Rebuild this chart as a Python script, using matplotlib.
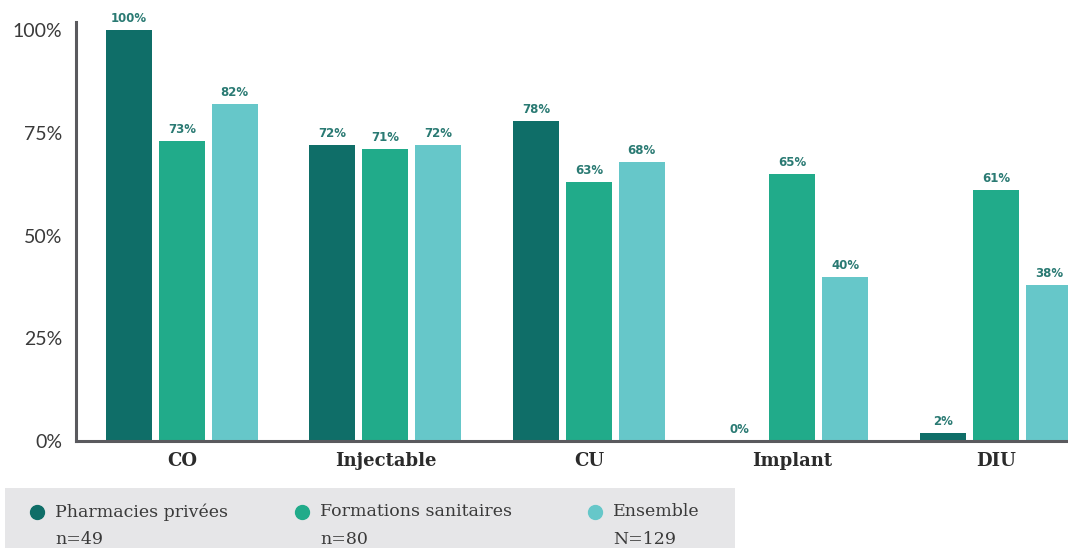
import numpy as np
import matplotlib.pyplot as plt
from matplotlib.patches import Rectangle
from matplotlib.lines import Line2D

categories = ["CO", "Injectable", "CU", "Implant", "DIU"]
pharmacies = [100, 72, 78, 0, 2]
formations = [73, 71, 63, 65, 61]
ensemble = [82, 72, 68, 40, 38]

series_names = ["Pharmacies privées", "Formations sanitaires", "Ensemble"]
series_counts = ["n=49", "n=80", "N=129"]
colors = ["#0f6e68", "#21ab8a", "#66c7c9"]

fig = plt.figure(figsize=(10.68, 5.48), dpi=100)
ax = fig.add_axes([0.0712, 0.1953, 0.9288, 0.7646])

x = np.arange(len(categories))
width = 0.226
step = 0.26

for i, vals in enumerate([pharmacies, formations, ensemble]):
    pos = x + (i - 1) * step
    ax.bar(pos, vals, width=width, color=colors[i], zorder=2)
    for p, v in zip(pos, vals):
        ax.text(p, v + 1.2, "{}%".format(v), ha="center", va="bottom",
                fontsize=8.5, fontweight="bold", color="#2a7a73",
                family="DejaVu Sans", clip_on=False)

ax.set_xlim(-0.52, 4.354)
ax.set_ylim(0, 102)

ax.set_yticks([0, 25, 50, 75, 100])
ax.set_yticklabels(["0%", "25%", "50%", "75%", "100%"],
                   fontsize=14, family="Lato", color="#3a3a3a")
ax.set_xticks(x)
ax.set_xticklabels(categories, fontsize=13, family="DejaVu Serif",
                   fontweight="bold", color="#2b2b2b")
ax.tick_params(axis="both", length=0)
ax.tick_params(axis="y", pad=10)
ax.tick_params(axis="x", pad=8)

for s in ["top", "right"]:
    ax.spines[s].set_visible(False)
for s in ["left", "bottom"]:
    ax.spines[s].set_color("#5a5a5e")
    ax.spines[s].set_linewidth(2.2)

# legend panel at the bottom
W, H = 1068, 548
fig.patches.append(Rectangle((5 / W, 0), 730 / W, 60 / H, transform=fig.transFigure,
                             facecolor="#e6e6e8", edgecolor="none", zorder=0))
dot_x = [37, 302, 595]
for dx, name, cnt, col in zip(dot_x, series_names, series_counts, colors):
    fig.add_artist(Line2D([dx / W], [1 - 512 / H], transform=fig.transFigure,
                          marker="o", markersize=10, color=col, linestyle="none"))
    fig.text((dx + 18) / W, 1 - 512 / H, name, fontsize=12.5, family="DejaVu Serif",
             color="#3a3a3a", va="center", ha="left")
    fig.text((dx + 18) / W, 1 - 540 / H, cnt, fontsize=12.5, family="DejaVu Serif",
             color="#3a3a3a", va="center", ha="left")

fig.savefig("out.png", dpi=100)
